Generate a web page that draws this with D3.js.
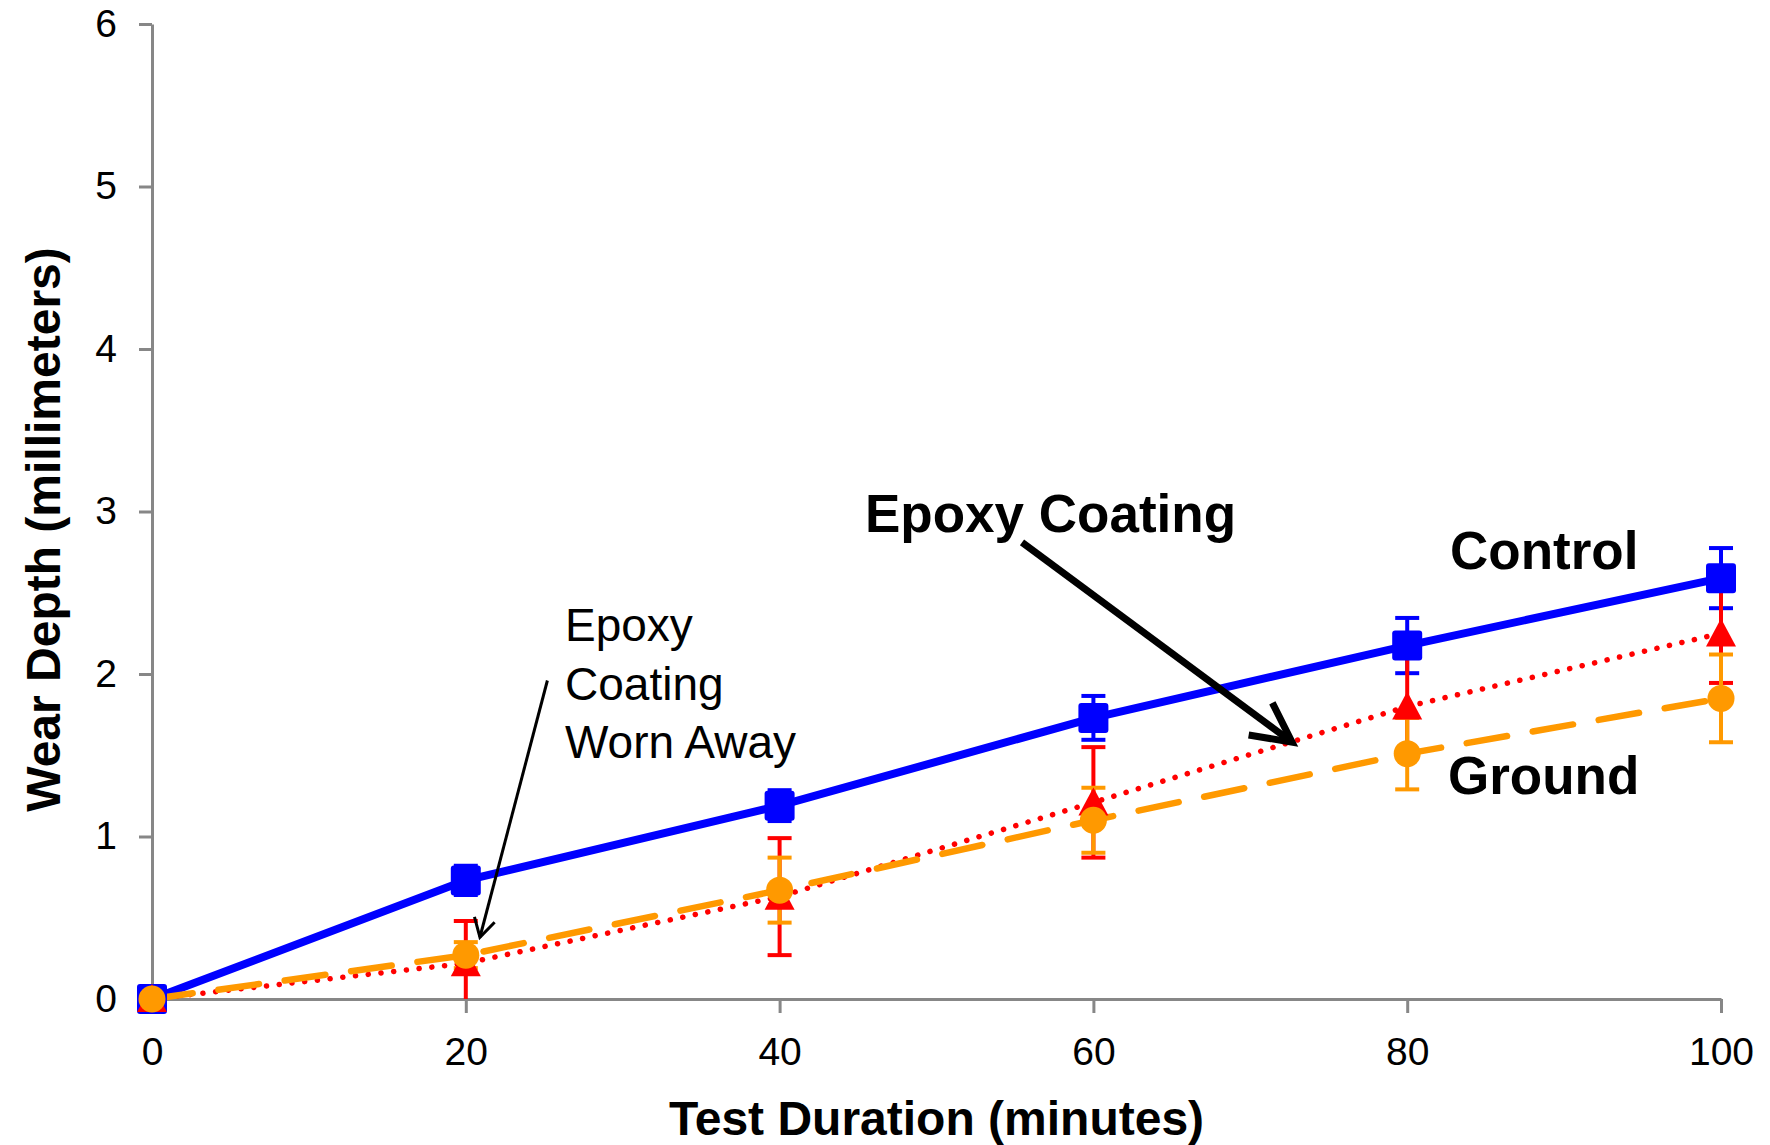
<!DOCTYPE html>
<html>
<head>
<meta charset="utf-8">
<script src="https://cdn.jsdelivr.net/npm/d3@7"></script>
<style>
  body { margin: 0; background: #fff; }
  svg { display: block; font-family: "Liberation Sans", Arial, sans-serif; }
</style>
</head>
<body>
<script>
// Data
const minutes = [0, 20, 40, 60, 80, 100];
const control = [0, 0.73, 1.19, 1.73, 2.175, 2.59];
const controlErr = [0, 0.09, 0.095, 0.135, 0.17, 0.185];
const epoxy = [0, 0.22, 0.63, 1.21, 1.80, 2.25];
const epoxyErr = [0, 0.26, 0.36, 0.34, 0.30, 0.305];
const ground = [0, 0.27, 0.67, 1.10, 1.51, 1.85];
const groundErr = [0, 0.08, 0.20, 0.20, 0.22, 0.27];
const xTicks = [0, 20, 40, 60, 80, 100];
const yTicks = [0, 1, 2, 3, 4, 5, 6];

const width = 1770, height = 1145;
const margin = { top: 24, right: 49, bottom: 146, left: 152 };

const x = d3.scaleLinear().domain([0, 100]).range([margin.left, width - margin.right]);
const y = d3.scaleLinear().domain([0, 6]).range([height - margin.bottom, margin.top]);

const svg = d3.select("body").append("svg")
    .attr("width", width)
    .attr("height", height);

const axisColor = "#878787";

// y axis
const yAxis = svg.append("g")
    .attr("transform", `translate(${margin.left},0)`)
    .call(d3.axisLeft(y).tickValues(yTicks).tickFormat(d3.format("d"))
        .tickSize(13).tickPadding(22).tickSizeOuter(0));
yAxis.select(".domain").attr("stroke", axisColor).attr("stroke-width", 3);
yAxis.selectAll(".tick line").attr("stroke", axisColor).attr("stroke-width", 3);
yAxis.selectAll(".tick text").attr("font-size", 39).attr("fill", "#000")
    .attr("font-family", "Liberation Sans, Arial, sans-serif");

// x axis
const xAxis = svg.append("g")
    .attr("transform", `translate(0,${y(0)})`)
    .call(d3.axisBottom(x).tickValues(xTicks).tickFormat(d3.format("d"))
        .tickSize(14).tickPadding(24).tickSizeOuter(0));
xAxis.select(".domain").attr("stroke", axisColor).attr("stroke-width", 3);
xAxis.selectAll(".tick line").attr("stroke", axisColor).attr("stroke-width", 3);
xAxis.selectAll(".tick text").attr("font-size", 39).attr("fill", "#000")
    .attr("font-family", "Liberation Sans, Arial, sans-serif");

// axis titles
svg.append("text")
    .attr("x", (x(0) + x(100)) / 2)
    .attr("y", 1135)
    .attr("text-anchor", "middle")
    .attr("font-size", 48)
    .attr("font-weight", "bold")
    .text("Test Duration (minutes)");

svg.append("text")
    .attr("transform", `translate(60,${(y(0) + y(6)) / 2 + 18}) rotate(-90)`)
    .attr("text-anchor", "middle")
    .attr("font-size", 48)
    .attr("font-weight", "bold")
    .text("Wear Depth (millimeters)");

const series = [
    { name: "Control", values: control, err: controlErr, color: "#0000ff", width: 8, dash: null, cap: "butt", marker: "square" },
    { name: "Epoxy Coating", values: epoxy, err: epoxyErr, color: "#ff0000", width: 5.5, dash: "0.1 12.7", cap: "round", marker: "triangle" },
    { name: "Ground", values: ground, err: groundErr, color: "#ff9900", width: 6.5, dash: "41 26", cap: "round", marker: "circle" }
];

const line = d3.line()
    .x(d => x(d[0]))
    .y(d => y(d[1]));

// lines
series.forEach(s => {
    svg.append("path")
        .datum(minutes.map((m, i) => [m, s.values[i]]))
        .attr("fill", "none")
        .attr("stroke", s.color)
        .attr("stroke-width", s.width)
        .attr("stroke-linecap", s.cap)
        .attr("stroke-dasharray", s.dash)
        .attr("d", line);
});

// error bars
series.forEach(s => {
    const g = svg.append("g").attr("stroke", s.color).attr("stroke-width", 4);
    minutes.forEach((m, i) => {
        const e = s.err[i];
        if (!e) return;
        const hi = s.values[i] + e;
        const lo = Math.max(0, s.values[i] - e);
        g.append("line")
            .attr("x1", x(m)).attr("x2", x(m))
            .attr("y1", y(hi)).attr("y2", y(lo));
        g.append("line")
            .attr("x1", x(m) - 12).attr("x2", x(m) + 12)
            .attr("y1", y(hi)).attr("y2", y(hi));
        if (s.values[i] - e >= 0) {
            g.append("line")
                .attr("x1", x(m) - 12).attr("x2", x(m) + 12)
                .attr("y1", y(lo)).attr("y2", y(lo));
        }
    });
});

// markers
series.forEach(s => {
    const pts = minutes.map((m, i) => [x(m), y(s.values[i])]);
    if (s.marker === "square") {
        svg.selectAll(null).data(pts).join("rect")
            .attr("x", d => d[0] - 15).attr("y", d => d[1] - 15)
            .attr("width", 30).attr("height", 30)
            .attr("rx", 3)
            .attr("fill", s.color);
    } else if (s.marker === "triangle") {
        svg.selectAll(null).data(pts).join("path")
            .attr("d", d => `M${d[0]},${d[1] - 15}L${d[0] + 15},${d[1] + 13}L${d[0] - 15},${d[1] + 13}Z`)
            .attr("fill", s.color);
    } else {
        svg.selectAll(null).data(pts).join("circle")
            .attr("cx", d => d[0]).attr("cy", d => d[1])
            .attr("r", 13.5)
            .attr("fill", s.color);
    }
});

// annotations
const labels = [
    { text: "Epoxy Coating", x: 865, y: 532, size: 53, weight: "bold" },
    { text: "Control", x: 1450, y: 569, size: 53, weight: "bold" },
    { text: "Ground", x: 1448, y: 794, size: 53, weight: "bold" }
];
labels.forEach(l => {
    svg.append("text")
        .attr("x", l.x).attr("y", l.y)
        .attr("font-size", l.size)
        .attr("font-weight", l.weight)
        .text(l.text);
});

const note = svg.append("text")
    .attr("font-size", 46);
["Epoxy", "Coating", "Worn Away"].forEach((t, i) => {
    note.append("tspan").attr("x", 565).attr("y", 641 + i * 58.5).text(t);
});

function arrow(x1, y1, x2, y2, w, len, ang) {
    const a = Math.atan2(y1 - y2, x1 - x2);
    const g = svg.append("g")
        .attr("stroke", "#000")
        .attr("stroke-width", w)
        .attr("fill", "none")
        .attr("stroke-linecap", "butt");
    g.append("line").attr("x1", x1).attr("y1", y1).attr("x2", x2).attr("y2", y2);
    const p1 = [x2 + len * Math.cos(a + ang), y2 + len * Math.sin(a + ang)];
    const p2 = [x2 + len * Math.cos(a - ang), y2 + len * Math.sin(a - ang)];
    g.append("path")
        .attr("stroke-linejoin", "miter")
        .attr("d", `M${p1[0]},${p1[1]}L${x2},${y2}L${p2[0]},${p2[1]}`);
}

arrow(x(55.45), y(2.81), x(72.66), y(1.58), 7, 44, 0.47);
arrow(x(25.2), y(1.96), x(20.9), y(0.38), 3, 21, 0.52);
</script>
</body>
</html>
